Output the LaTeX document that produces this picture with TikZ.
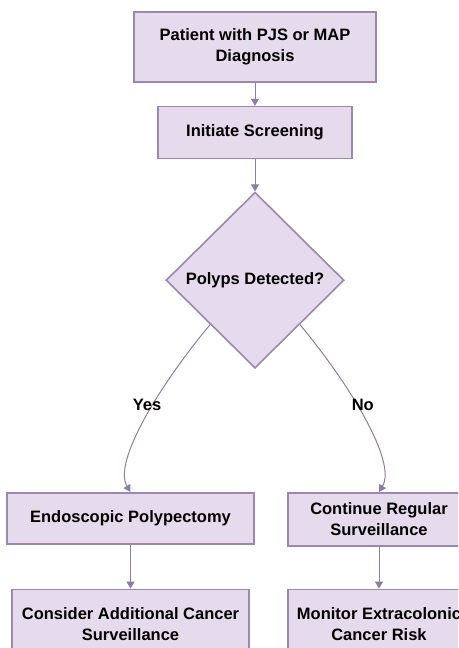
\documentclass[tikz,border=0pt]{standalone}
\usepackage{fontspec}
\setmainfont{Liberation Sans}
\usepackage{tikz}
\usetikzlibrary{arrows.meta,positioning,shapes.geometric}

\definecolor{boxfill}{HTML}{E5DBEC}
\definecolor{boxline}{HTML}{9C87AE}
\definecolor{flowline}{HTML}{8E7CA2}

\begin{document}
\begin{tikzpicture}[x=1pt,y=1pt,font=\fontsize{16.5}{21}\selectfont\bfseries,
    box node/.style={rectangle,draw=boxline,fill=boxfill,line width=1.6pt,align=center,inner sep=0pt},
    decision node/.style={diamond,draw=boxline,fill=boxfill,line width=1.6pt,inner sep=0pt,minimum width=178pt,minimum height=176pt},
    flow line/.style={draw=flowline,line width=1pt,-{Triangle[length=7pt,width=8pt,fill=flowline]}}]
    \useasboundingbox (0,0) rectangle (458,-648);
    \clip (0,0) rectangle (458,-648);

    \node[box node,minimum width=242pt,minimum height=70pt] (diag) at (255,-47) {Patient with PJS or MAP\\Diagnosis};
    \node[box node,minimum width=194pt,minimum height=52pt] (screen) [below=23pt of diag] {Initiate Screening};
    \node[decision node] (polyps) [below=32pt of screen] {Polyps Detected?};
    \node[box node,minimum width=247pt,minimum height=51pt] (polypectomy) [below=123pt of polyps,xshift=-124.5pt] {Endoscopic Polypectomy};
    \node[box node,minimum width=182pt,minimum height=53pt] (regular) [below=123pt of polyps,xshift=124pt] {Continue Regular\\Surveillance};
    \node[box node,minimum width=237pt,minimum height=70pt] (additional) [below=44pt of polypectomy] {Consider Additional Cancer\\Surveillance};
    \node[box node,minimum width=182pt,minimum height=70pt] (extracolonic) [below=42pt of regular] {Monitor Extracolonic\\Cancer Risk};

    \path[flow line]
    (diag) edge (screen)
    (screen) edge (polyps)
    (polypectomy) edge (additional)
    (regular) edge (extracolonic);

    % the two answers
    \draw[flow line] (polyps.south west) .. controls +(-50,-60) and +(-18,30) .. (polypectomy.north) node[pos=0.42,xshift=-6pt,text=black] {Yes};
    \draw[flow line] (polyps.south east) .. controls +(50,-60) and +(18,30) .. (regular.north) node[pos=0.42,xshift=6pt,text=black] {No};
\end{tikzpicture}
\end{document}
